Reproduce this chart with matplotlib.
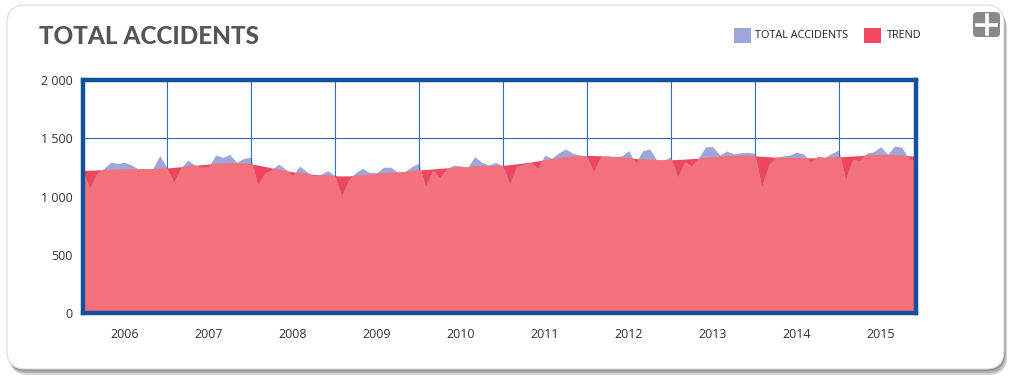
import numpy as np
import matplotlib
matplotlib.use("Agg")
import matplotlib.pyplot as plt
from matplotlib.patches import FancyBboxPatch, Rectangle
from matplotlib.ticker import FixedLocator, FuncFormatter

years = [2006, 2007, 2008, 2009, 2010, 2011, 2012, 2013, 2014, 2015]

total_accidents = [
    1225, 1070, 1199, 1240, 1293, 1285, 1293, 1270, 1233, 1233, 1236, 1351,
    1251, 1122, 1242, 1313, 1270, 1251, 1256, 1356, 1336, 1362, 1293, 1328,
    1336, 1099, 1199, 1233, 1279, 1233, 1179, 1262, 1213, 1179, 1190, 1222,
    1179, 1005, 1142, 1205, 1242, 1205, 1205, 1251, 1251, 1208, 1213, 1256,
    1285, 1085, 1228, 1162, 1236, 1270, 1262, 1251, 1342, 1293, 1270, 1293,
    1262, 1107, 1262, 1276, 1293, 1242, 1356, 1328, 1376, 1408, 1371, 1356,
    1348, 1213, 1342, 1348, 1342, 1348, 1394, 1285, 1394, 1408, 1313, 1308,
    1342, 1165, 1299, 1262, 1336, 1428, 1428, 1356, 1391, 1365, 1376, 1379,
    1371, 1085, 1270, 1336, 1348, 1356, 1379, 1365, 1290, 1348, 1336, 1371,
    1399, 1148, 1319, 1308, 1371, 1385, 1428, 1362, 1434, 1422, 1328, 1299,
]

trend = [
    1225, 1226, 1228, 1229, 1230, 1232, 1234, 1235, 1236, 1237, 1238, 1240,
    1244, 1250, 1256, 1262, 1268, 1273, 1278, 1281, 1284, 1286, 1286, 1285,
    1280, 1270, 1258, 1246, 1234, 1222, 1212, 1203, 1196, 1190, 1185, 1181,
    1178, 1177, 1177, 1180, 1184, 1189, 1195, 1200, 1205, 1210, 1215, 1220,
    1226, 1232, 1237, 1242, 1246, 1250, 1253, 1256, 1259, 1261, 1263, 1265,
    1268, 1273, 1280, 1288, 1296, 1305, 1314, 1323, 1331, 1338, 1344, 1349,
    1352, 1352, 1350, 1346, 1341, 1336, 1331, 1326, 1321, 1318, 1316, 1315,
    1316, 1318, 1321, 1325, 1329, 1333, 1338, 1342, 1346, 1349, 1351, 1351,
    1349, 1345, 1341, 1337, 1334, 1332, 1331, 1331, 1332, 1334, 1336, 1338,
    1340, 1343, 1347, 1351, 1354, 1356, 1357, 1357, 1356, 1354, 1350, 1345,
]

y_ticks = [0, 500, 1000, 1500, 2000]

LAVENDER = "#9ea8d8"
SALMON = "#f2717a"
DARKRED = "#ee4660"
FRAME = "#1450a0"
GRID = "#3569c0"
TICKFONT = ["Open Sans", "DejaVu Sans"]

W, H = 1018, 380
fig = plt.figure(figsize=(W / 100, H / 100), dpi=100)
fig.patch.set_facecolor("white")


def fx(px):
    return px / W


def fy(py):
    return 1 - py / H


# card shadow and card
for off, col in [(6, "#d4d4d4"), (4, "#b0b0b0"), (2, "#8f8f8f")]:
    sh = FancyBboxPatch((fx(7 + off * 0.5), fy(369 + off)), fx(997), (369 - 5) / H,
                        boxstyle="round,pad=0,rounding_size=0.018",
                        transform=fig.transFigure, facecolor=col, edgecolor="none",
                        zorder=0, mutation_aspect=W / H)
    fig.patches.append(sh)
card = FancyBboxPatch((fx(7), fy(369)), fx(997), (369 - 5) / H,
                      boxstyle="round,pad=0,rounding_size=0.018",
                      transform=fig.transFigure, facecolor="white", edgecolor="#dcdcdc",
                      linewidth=0.8, zorder=1, mutation_aspect=W / H)
fig.patches.append(card)

# axes
x0, x1, ytop, ybot = 82.7, 915.7, 80, 313
ax = fig.add_axes([fx(x0), fy(ybot), (x1 - x0) / W, (ybot - ytop) / H])
ax.set_zorder(2)
ax.set_facecolor("white")

x = np.arange(len(total_accidents))
tr = np.array(trend, dtype=float)
tot = np.array(total_accidents, dtype=float)

trend_fill = ax.fill_between(x, 0, tr, color=DARKRED, linewidth=0, zorder=1)
ax.fill_between(x, 0, tot, color=LAVENDER, linewidth=0, zorder=2)
overlap = ax.fill_between(x, 0, tot, color=SALMON, linewidth=0, zorder=3)
overlap.set_clip_path(trend_fill.get_paths()[0], ax.transData)

ax.set_xlim(0, len(x) - 1)
ax.set_ylim(0, 2000)

ax.xaxis.set_major_locator(FixedLocator([12 * k for k in range(1, len(years))]))
ax.xaxis.set_minor_locator(FixedLocator([6 + 12 * k for k in range(len(years))]))
ax.set_xticklabels([], minor=False)
ax.set_xticklabels([str(y) for y in years], minor=True)
ax.set_yticks(y_ticks)
ax.yaxis.set_major_formatter(FuncFormatter(lambda v, p: f"{int(v):,}".replace(",", " ")))

ax.tick_params(axis="both", which="both", length=0, labelsize=9, colors="#333333")
ax.tick_params(axis="x", which="minor", pad=11)
ax.tick_params(axis="y", pad=7)
for lab in ax.get_xticklabels(minor=True) + ax.get_yticklabels():
    lab.set_family(TICKFONT)
ax.grid(True, which="major", color=GRID, linewidth=0.8, zorder=5)
ax.set_axisbelow(False)

for s in ax.spines.values():
    s.set_color(FRAME)
    s.set_linewidth(3.2)
    s.set_zorder(6)

# title
fig.text(fx(39), fy(37), "TOTAL ACCIDENTS", fontsize=17.5, fontweight=900,
         family=["Lato", "DejaVu Sans"], color="#555555", va="center", ha="left", zorder=3)

# legend
fig.patches.append(Rectangle((fx(734), fy(43)), fx(17), 15 / H, transform=fig.transFigure,
                             facecolor=LAVENDER, edgecolor="none", zorder=3))
fig.text(fx(755), fy(36), "TOTAL ACCIDENTS", fontsize=7.8, color="#222222",
         family=TICKFONT, va="center", ha="left", zorder=3)
fig.patches.append(Rectangle((fx(864), fy(43)), fx(17), 15 / H, transform=fig.transFigure,
                             facecolor="#f04860", edgecolor="none", zorder=3))
fig.text(fx(887), fy(36), "TREND", fontsize=7.8, color="#222222",
         family=TICKFONT, va="center", ha="left", zorder=3)

# plus button
btn = FancyBboxPatch((fx(973), fy(37)), fx(27), 25 / H,
                     boxstyle="round,pad=0,rounding_size=0.004",
                     transform=fig.transFigure, facecolor="#8a8a8a", edgecolor="none",
                     zorder=3, mutation_aspect=W / H)
fig.patches.append(btn)
fig.lines.append(plt.Line2D([fx(977), fx(996)], [fy(24.5), fy(24.5)], transform=fig.transFigure,
                            color="white", linewidth=2.6, zorder=4))
fig.lines.append(plt.Line2D([fx(986.5), fx(986.5)], [fy(15), fy(34)], transform=fig.transFigure,
                            color="white", linewidth=2.6, zorder=4))

fig.savefig("out.png", dpi=100)
